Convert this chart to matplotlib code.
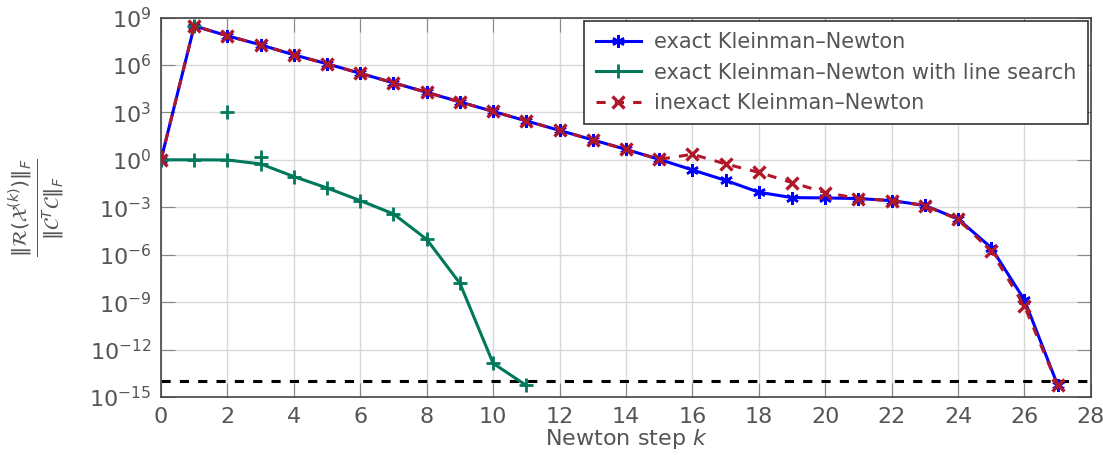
import matplotlib.pyplot as plt
import numpy as np

# Newton steps
k_exact = np.arange(0, 28)
k_ls = np.arange(0, 12)

# log10 of relative residual norms
exact_log = [0.0, 8.47, 7.84, 7.27, 6.64, 6.07, 5.47, 4.87, 4.27, 3.66,
             3.06, 2.46, 1.86, 1.26, 0.66, 0.03, -0.64, -1.3, -2.05, -2.39,
             -2.41, -2.45, -2.58, -2.88, -3.74, -5.56, -8.87, -14.25]
inexact_log = [0.0, 8.47, 7.84, 7.27, 6.64, 6.07, 5.47, 4.87, 4.27, 3.66,
               3.06, 2.46, 1.86, 1.26, 0.66, 0.03, 0.35, -0.26, -0.79, -1.44,
               -2.07, -2.45, -2.58, -2.9, -3.76, -5.77, -9.25, -14.25]
ls_log = [0.0, 0.0, -0.01, -0.26, -1.06, -1.78, -2.58, -3.42, -5.03, -7.81,
          -12.87, -14.27]
# extra line-search iterates (marks only)
ls_extra_k = [1, 2, 3]
ls_extra_log = [8.47, 3.03, 0.16]

tol = 1e-14

exact = 10.0 ** np.array(exact_log)
inexact = 10.0 ** np.array(inexact_log)
ls = 10.0 ** np.array(ls_log)
ls_extra = 10.0 ** np.array(ls_extra_log)

text_col = '#555555'
blue = '#0000ff'
green = '#00785a'
red = '#b0182a'

plt.rcParams['font.family'] = ['DejaVu Sans']
plt.rcParams['mathtext.fontset'] = 'dejavusans'

fig = plt.figure(figsize=(11.03, 4.55), dpi=100)
ax = fig.add_axes([0.146, 0.1275, 0.843, 0.834])

ax.plot(k_exact, exact, color=blue, lw=2.2, marker=(6, 2, 0), ms=9, mew=1.8,
        label='exact Kleinman\u2013Newton', zorder=3)
ax.plot(k_ls, ls, color=green, lw=2.2, marker='+', ms=10, mew=2,
        label='exact Kleinman\u2013Newton with line search', zorder=3)
ax.plot(ls_extra_k, ls_extra, ls='none', color=green, marker='+', ms=10, mew=2, zorder=3)
ax.plot(k_exact, inexact, color=red, lw=2.2, ls=(0, (3, 3)), marker='x', ms=8, mew=2.4,
        label='inexact Kleinman\u2013Newton', zorder=4)
ax.axhline(tol, color='black', lw=2.2, ls=(0, (3, 3)), zorder=2)

ax.set_yscale('log')
ax.set_xlim(0, 28)
ax.set_ylim(1e-15, 1e9)
ax.set_xticks(np.arange(0, 29, 2))
ax.set_yticks([10.0 ** e for e in range(-15, 10, 3)])
ax.minorticks_off()
ax.grid(True, color='#d8d8d8', lw=1)
ax.set_axisbelow(True)
ax.tick_params(direction='in', length=10, color='#888888', labelcolor=text_col,
               labelsize=16, top=True, right=True, pad=7)
for s in ax.spines.values():
    s.set_color('#444444')
    s.set_linewidth(1.2)

ax.set_xlabel('Newton step $k$', fontsize=16, color=text_col, labelpad=0)
ax.set_ylabel(r'$\frac{\|\mathcal{R}(\mathcal{X}^{(k)})\|_F}{\|\mathcal{C}^T\mathcal{C}\|_F}$',
              fontsize=21, color=text_col, labelpad=16)

leg = ax.legend(loc='upper right', fontsize=15, frameon=True, fancybox=False,
                borderaxespad=0.15, handlelength=2.2, labelspacing=0.5,
                borderpad=0.55, handletextpad=0.6, labelcolor=text_col)
leg.get_frame().set_edgecolor('#333333')
leg.get_frame().set_linewidth(1.2)
leg.get_frame().set_alpha(1)

fig.savefig('out.png', dpi=100)
